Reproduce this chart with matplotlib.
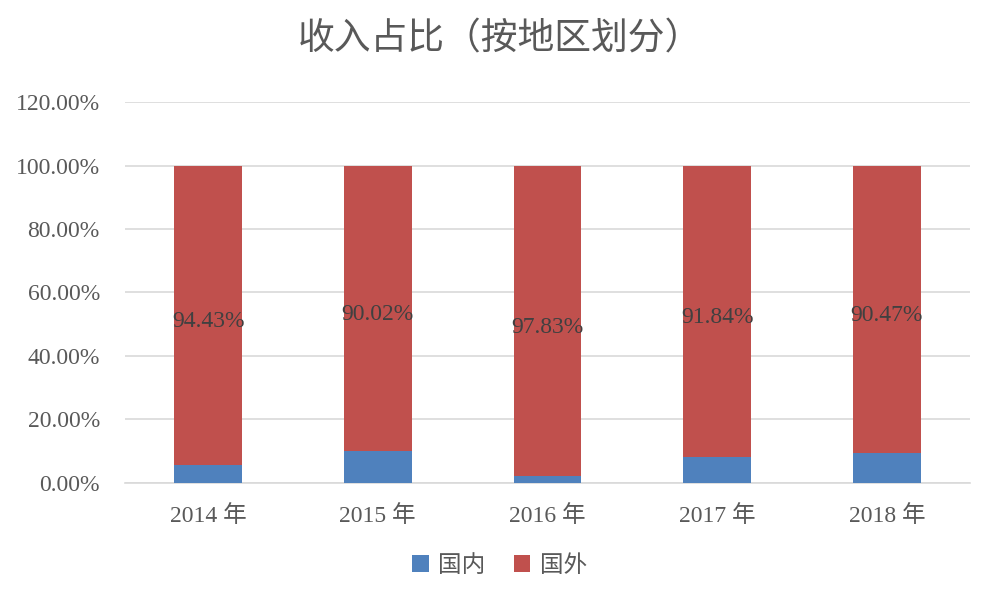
import matplotlib
matplotlib.use("Agg")
import matplotlib.pyplot as plt
from matplotlib.ticker import FuncFormatter
from matplotlib.transforms import offset_copy

plt.rcParams['font.family'] = ['Liberation Serif', 'Noto Sans CJK SC']

# Data
years = ['2014 年', '2015 年', '2016 年', '2017 年', '2018 年']
domestic = [5.57, 9.98, 2.17, 8.16, 9.53]
foreign = [94.43, 90.02, 97.83, 91.84, 90.47]

fig = plt.figure(figsize=(9.99, 5.99), dpi=100)
ax = fig.add_axes([0.125, 0.1937, 0.846, 0.636])

x = range(len(years))
dom = [v / 100 for v in domestic]
fgn = [v / 100 for v in foreign]
ax.bar(x, dom, width=0.4, color='#4F81BD', label='国内', zorder=3)
bars = ax.bar(x, fgn, width=0.4, bottom=dom, color='#C0504D', label='国外', zorder=3)

# value labels in the middle of the red segments (nudged down a little)
lbl_tr = offset_copy(ax.transData, fig=fig, x=0, y=-4, units='dots')
for i, b in enumerate(bars):
    ax.text(b.get_x() + b.get_width() / 2, dom[i] + fgn[i] / 2, f'{foreign[i]:.2f}%',
            ha='center', va='center_baseline', fontsize=17, color='#404040',
            zorder=4, transform=lbl_tr)

ax.set_ylim(0, 1.2)
ax.set_xlim(-0.49, 4.49)
ax.set_yticks([0, 0.2, 0.4, 0.6, 0.8, 1.0, 1.2])
ax.yaxis.set_major_formatter(FuncFormatter(lambda v, p: f'{v * 100:.2f}%'))
ax.set_xticks(list(x))
ax.set_xticklabels(years)
ax.tick_params(axis='y', length=0, pad=18, labelsize=17, labelcolor='#595959')
ax.tick_params(axis='x', length=0, pad=16, labelsize=17, labelcolor='#595959')
ax.grid(axis='y', color='#D9D9D9', linewidth=1.2, zorder=0)
for s in ['top', 'right', 'left']:
    ax.spines[s].set_visible(False)
ax.spines['bottom'].set_color('#D9D9D9')
ax.spines['bottom'].set_linewidth(1.2)

fig.text(0.5, 0.933, '收入占比（按地区划分）', ha='center', va='center',
         fontsize=26.5, color='#595959')

fig.legend(loc='center', bbox_to_anchor=(0.5, 0.055), ncol=2, frameon=False,
           fontsize=17, handlelength=0.7, handleheight=0.7, columnspacing=1.2,
           handletextpad=0.4, labelcolor='#595959')

fig.savefig('out.png', dpi=100)
